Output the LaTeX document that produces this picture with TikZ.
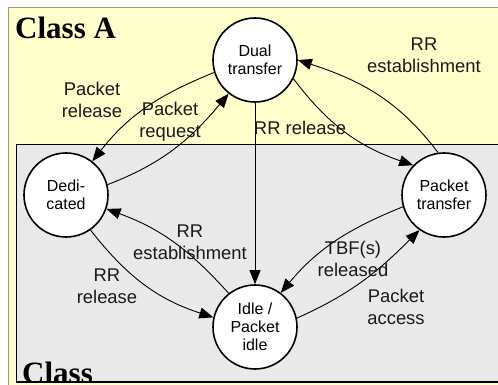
\documentclass[tikz,border=0pt]{standalone}
\usepackage{fontspec}
\setmainfont{Liberation Sans}
\newfontfamily\serifb{Liberation Serif}
\usetikzlibrary{arrows.meta}
\definecolor{yellowbg}{RGB}{255,255,204}
\definecolor{greybg}{RGB}{233,233,233}
\definecolor{olivebd}{RGB}{153,153,119}
\begin{document}
\begin{tikzpicture}[x=1pt,y=-1pt,
  state/.style={circle,draw=black,line width=1.6pt,fill=white,minimum size=84pt,inner sep=0pt,align=center,font=\fontsize{16}{18}\selectfont},
  lbl/.style={align=center,font=\fontsize{18.4}{22}\selectfont,inner sep=0pt,text=black!90},
  conn/.style={line width=0.9pt,-{Triangle[length=14pt,width=11pt]}},
  classlbl/.style={font=\serifb\bfseries\fontsize{31}{34}\selectfont,inner sep=0pt,anchor=base west}]
\useasboundingbox (0,0) rectangle (498,385);
\fill[yellowbg] (8,8) rectangle (500,387);
\draw[olivebd,line width=1pt] (500,8) -- (8,8) -- (8,387);
\node[classlbl] (ca) at (15,39) {Class A};
\begin{scope}
\clip (16,144) rectangle (500,382.5);
\fill[greybg] (16,144) rectangle (500,383);
\node[classlbl] (cb) at (22,383) {Class};
\end{scope}
\draw[line width=0.8pt] (500,144) -- (16,144) -- (16,382);
\draw[line width=1.5pt] (16,382) -- (500,382);

\node[state] (dual) at (255,60) {Dual\\transfer};
\node[state] (ded) at (66,195) {Dedi-\\cated};
\node[state] (pt) at (444,195) {Packet\\transfer};
\node[state] (idle) at (255,327) {Idle /\\Packet\\idle};

\draw[conn] (dual.197) to[out=202,in=52] (ded.52);
\draw[conn] (ded.14) to[out=21,in=230] (dual.232);
\draw[conn] (dual.south) -- (idle.north);
\draw[conn] (dual.334) to[out=307,in=161] (pt.136);
\draw[conn] (pt.98) to[out=127,in=342] (dual.0);
\draw[conn] (idle.128) to[out=132,in=340] (ded.341);
\draw[conn] (ded.305) to[out=308,in=162] (idle.167);
\draw[conn] (pt.196) to[out=202,in=50] (idle.53);
\draw[conn] (idle.12) to[out=24,in=225] (pt.235);

\node[lbl] (l1) at (92,100) {Packet\\release};
\node[lbl] (l2) at (170,122) {Packet\\request};
\node[lbl] (l3) at (300,128) {RR release};
\node[lbl] (l4) at (424,55) {RR\\establishment};
\node[lbl] (l5) at (190,242) {RR\\establishment};
\node[lbl] (l6) at (107,286) {RR\\release};
\node[lbl] (l7) at (353,259) {TBF(s)\\released};
\node[lbl] (l8) at (396,307) {Packet\\access};
\end{tikzpicture}
\end{document}
